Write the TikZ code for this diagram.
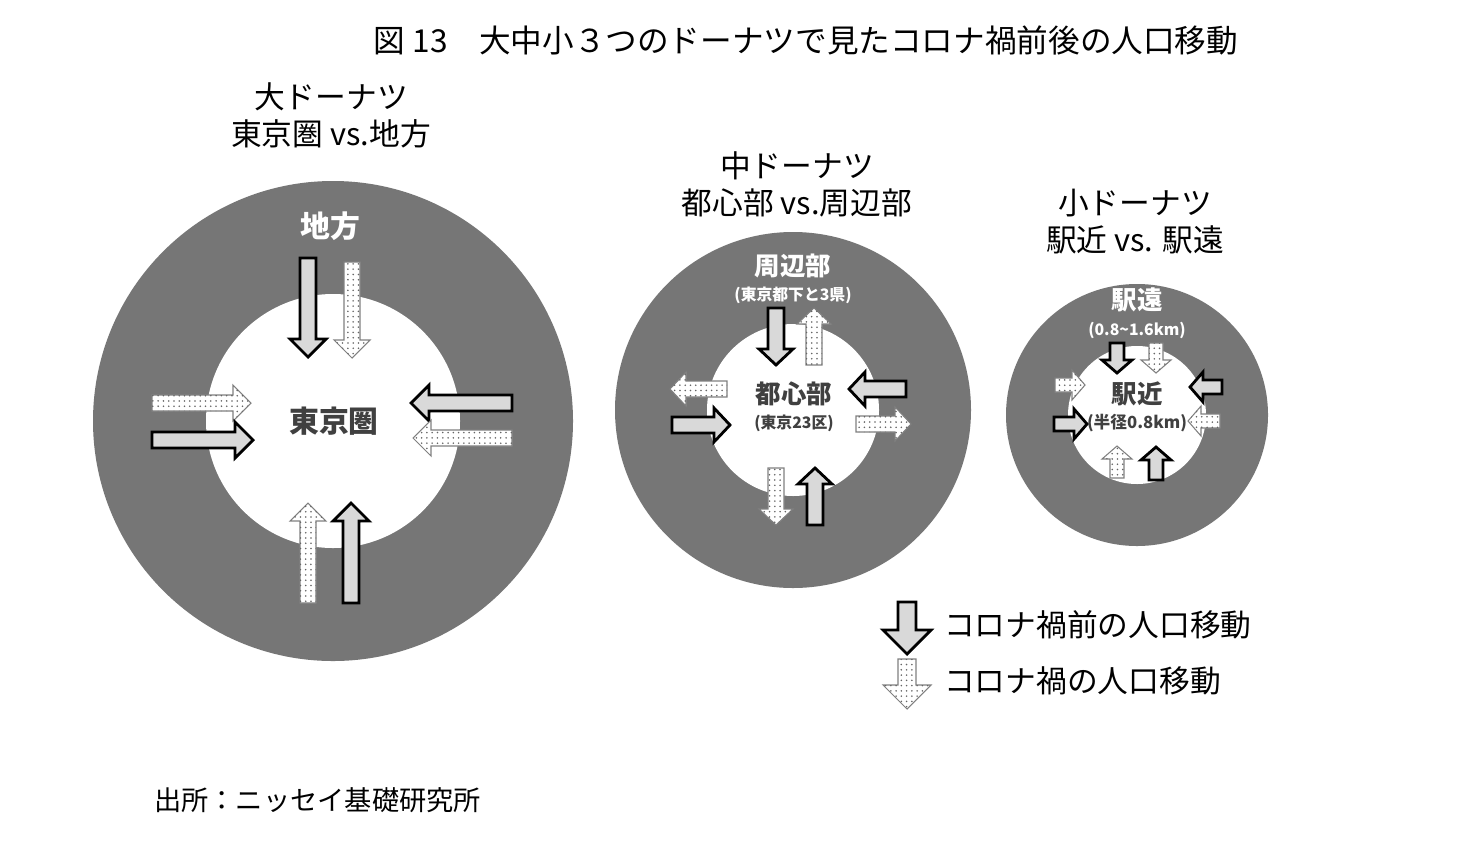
\documentclass[tikz,border=0pt]{standalone}
\usepackage{fontspec}
\setmainfont{Noto Sans CJK JP}
\usetikzlibrary{patterns}
\definecolor{ring}{HTML}{767676}
\definecolor{afill}{HTML}{D9D9D9}
\definecolor{ink}{HTML}{404040}
\tikzset{
  solidarr/.style={draw=black,line width=1.6pt,fill=afill,line join=miter},
  dotarr/.style={draw=gray,line width=0.6pt,fill=white,postaction={pattern=dots,pattern color=black!60}},
  lbl/.style={font=\fontsize{17.5}{21}\selectfont,align=center,text=black},
  wlbl/.style={text=white,font=\bfseries\fontsize{14}{16}\selectfont,align=center},
  dlbl/.style={text=ink,font=\bfseries\fontsize{14}{16}\selectfont,align=center},
}
\newcommand{\barr}[7]{\begin{scope}[shift={#2},rotate=#3]
\path[#1] (0,-#5)--({#4-#7},-#5)--({#4-#7},-#6)--(#4,0)--({#4-#7},#6)--({#4-#7},#5)--(0,#5)--cycle;
\end{scope}}
\begin{document}
\begin{tikzpicture}[x=0.02cm,y=-0.02cm]
\useasboundingbox[fill=white] (0,0) rectangle (1479,849);
\node[font=\fontsize{18}{20}\selectfont] (title) at (806,40) {図 13　大中小３つのドーナツで見たコロナ禍前後の人口移動};
% large
\fill[ring] (333,421) circle (240);
\fill[white] (333,421) circle (127);
\node[lbl] (t1) at (331,115) {大ドーナツ\\東京圏 vs.地方};
\node[wlbl,font=\bfseries\fontsize{17}{19}\selectfont] (o1) at (330,226) {地方};
\node[dlbl,font=\bfseries\fontsize{17}{19}\selectfont] (i1) at (334,421) {東京圏};
\barr{solidarr}{(308,258)}{270}{99}{8}{18}{18}
\barr{dotarr}{(352,262)}{270}{96}{8}{18}{18}
\barr{dotarr}{(152,403)}{0}{99}{8}{18}{18}
\barr{solidarr}{(152,440)}{0}{101}{8}{18}{18}
\barr{solidarr}{(512,403)}{180}{101}{8}{18}{18}
\barr{dotarr}{(512,438)}{180}{99}{8}{18}{18}
\barr{dotarr}{(308,603)}{90}{100}{8}{18}{18}
\barr{solidarr}{(351,603)}{90}{100}{8}{18}{18}
% medium
\fill[ring] (793,410) circle (178);
\fill[white] (793,410) circle (86);
\node[lbl] (t2) at (797,184) {中ドーナツ\\都心部 vs.周辺部};
\node[wlbl,font=\bfseries\fontsize{14.5}{16}\selectfont] (o2) at (793,266) {周辺部};
\node[wlbl,font=\bfseries\fontsize{9}{10}\selectfont] (o2b) at (793,295) {(東京都下と3県)};
\node[dlbl,font=\bfseries\fontsize{14.5}{16}\selectfont] (i2) at (794,394) {都心部};
\node[dlbl,font=\bfseries\fontsize{9}{10}\selectfont] (i2b) at (794,423) {(東京23区)};
\barr{solidarr}{(776,308)}{270}{57}{8}{17}{16}
\barr{dotarr}{(814,365)}{90}{57}{8}{17}{16}
\barr{dotarr}{(727,389)}{180}{57}{8}{17}{16}
\barr{solidarr}{(672,425)}{0}{58}{8}{17}{16}
\barr{solidarr}{(906,389)}{180}{57}{8}{17}{16}
\barr{dotarr}{(856,424)}{0}{55}{8}{17}{16}
\barr{dotarr}{(776,468)}{270}{57}{8}{17}{16}
\barr{solidarr}{(815,525)}{90}{57}{8}{17}{16}
% small
\fill[ring] (1137,415) circle (131);
\fill[white] (1137,415) circle (69);
\node[lbl] (t3) at (1135,222) {小ドーナツ\\駅近 vs. 駅遠};
\node[wlbl,font=\bfseries\fontsize{14.5}{16}\selectfont] (o3) at (1137,300) {駅遠};
\node[wlbl,font=\bfseries\fontsize{9}{10}\selectfont] (o3b) at (1137,330) {(0.8\textasciitilde1.6km)};
\node[dlbl,font=\bfseries\fontsize{14.5}{16}\selectfont] (i3) at (1137,394) {駅近};
\node[dlbl,font=\bfseries\fontsize{9.5}{10}\selectfont] (i3b) at (1137,423) {(半径0.8km)};
\barr{solidarr}{(1117,343)}{270}{30}{7}{15}{13}
\barr{dotarr}{(1156,343)}{270}{30}{7}{15}{13}
\barr{dotarr}{(1055,385)}{0}{30}{7}{15}{13}
\barr{solidarr}{(1054,424)}{0}{33}{7}{15}{13}
\barr{solidarr}{(1222,387)}{180}{32}{7}{15}{13}
\barr{dotarr}{(1220,421)}{180}{32}{7}{15}{13}
\barr{dotarr}{(1117,478)}{90}{32}{7}{15}{13}
\barr{solidarr}{(1156,480)}{90}{33}{7}{15}{13}
% legend
\barr{solidarr}{(907,602)}{270}{52}{9}{24}{24}
\barr{dotarr}{(907,659)}{270}{50}{9}{24}{24}
\node[lbl,anchor=west] (l1) at (938,625) {コロナ禍前の人口移動};
\node[lbl,anchor=west] (l2) at (938,681) {コロナ禍の人口移動};
\node[font=\fontsize{15.5}{17}\selectfont,anchor=west] (src) at (148,800) {出所：ニッセイ基礎研究所};
\end{tikzpicture}
\end{document}
